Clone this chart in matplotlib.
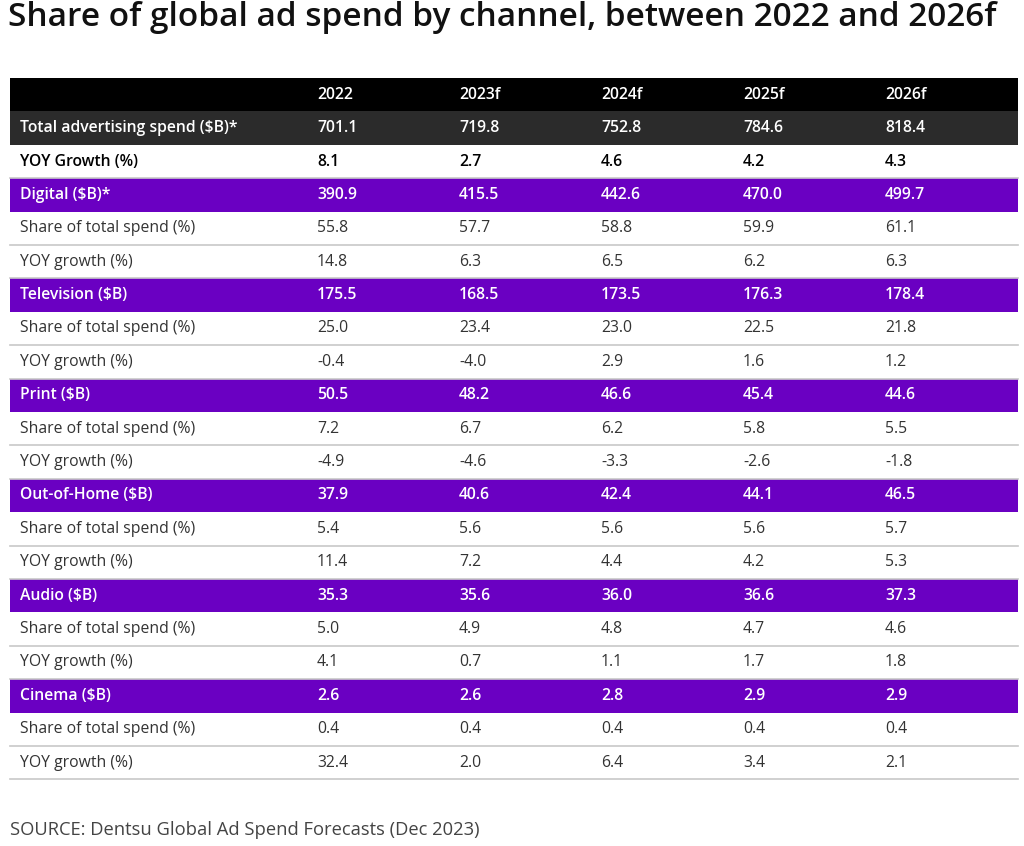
import matplotlib.pyplot as plt
from matplotlib.patches import Rectangle

plt.rcParams['font.family'] = ['Open Sans', 'DejaVu Sans']

years = ['2022', '2023f', '2024f', '2025f', '2026f']
total_spend = [701.1, 719.8, 752.8, 784.6, 818.4]
total_growth = [8.1, 2.7, 4.6, 4.2, 4.3]

channels = ['Digital ($B)*', 'Television ($B)', 'Print ($B)', 'Out-of-Home ($B)',
            'Audio ($B)', 'Cinema ($B)']
channel_spend = [
    [390.9, 415.5, 442.6, 470.0, 499.7],
    [175.5, 168.5, 173.5, 176.3, 178.4],
    [50.5, 48.2, 46.6, 45.4, 44.6],
    [37.9, 40.6, 42.4, 44.1, 46.5],
    [35.3, 35.6, 36.0, 36.6, 37.3],
    [2.6, 2.6, 2.8, 2.9, 2.9],
]
channel_share = [
    [55.8, 57.7, 58.8, 59.9, 61.1],
    [25.0, 23.4, 23.0, 22.5, 21.8],
    [7.2, 6.7, 6.2, 5.8, 5.5],
    [5.4, 5.6, 5.6, 5.6, 5.7],
    [5.0, 4.9, 4.8, 4.7, 4.6],
    [0.4, 0.4, 0.4, 0.4, 0.4],
]
channel_growth = [
    [14.8, 6.3, 6.5, 6.2, 6.3],
    [-0.4, -4.0, 2.9, 1.6, 1.2],
    [-4.9, -4.6, -3.3, -2.6, -1.8],
    [11.4, 7.2, 4.4, 4.2, 5.3],
    [4.1, 0.7, 1.1, 1.7, 1.8],
    [32.4, 2.0, 6.4, 3.4, 2.1],
]

PURPLE = '#6a00c2'
DARK = '#2b2b2b'

fig = plt.figure(figsize=(10.24, 8.46), dpi=100)
ax = fig.add_axes([0, 0, 1, 1])
ax.set_xlim(0, 1024)
ax.set_ylim(846, 0)
ax.axis('off')

left, right = 10, 1018
top = 78
row_h = 33.4
label_x = 20
col_x = [317 + 142 * i for i in range(5)]


def fmt(v):
    return f'{v:.1f}'


# rows: (label, values, background, text colour, bold)
rows = [('', years, 'black', 'white', True)]
rows.append(('Total advertising spend ($B)*', [fmt(v) for v in total_spend], DARK, 'white', True))
rows.append(('YOY Growth (%)', [fmt(v) for v in total_growth], 'white', 'black', True))
for i, name in enumerate(channels):
    rows.append((name, [fmt(v) for v in channel_spend[i]], PURPLE, 'white', True))
    rows.append(('Share of total spend (%)', [fmt(v) for v in channel_share[i]], 'white', '#333333', False))
    rows.append(('YOY growth (%)', [fmt(v) for v in channel_growth[i]], 'white', '#333333', False))

for r, (label, vals, bg, fg, bold) in enumerate(rows):
    y0 = top + r * row_h
    if bg != 'white':
        ax.add_patch(Rectangle((left, y0), right - left, row_h, color=bg, lw=0))
    else:
        ax.plot([left, right], [y0 + row_h, y0 + row_h], color='#c8c8c8', lw=1.2)
    yc = y0 + row_h / 2
    weight = 'semibold' if bold else 'normal'
    ax.text(label_x, yc, label, color=fg, fontsize=11.3, weight=weight, va='center', ha='left')
    for x, v in zip(col_x, vals):
        ax.text(x, yc, v, color=fg, fontsize=11.3, weight=weight, va='center', ha='left')

ax.text(8, 18, 'Share of global ad spend by channel, between 2022 and 2026f',
        fontsize=24, weight='semibold', color='#111111', va='center', ha='left')
ax.text(10, 830, 'SOURCE: Dentsu Global Ad Spend Forecasts (Dec 2023)',
        fontsize=13.2, color='#444444', va='center', ha='left')

fig.savefig('out.png', dpi=100)
